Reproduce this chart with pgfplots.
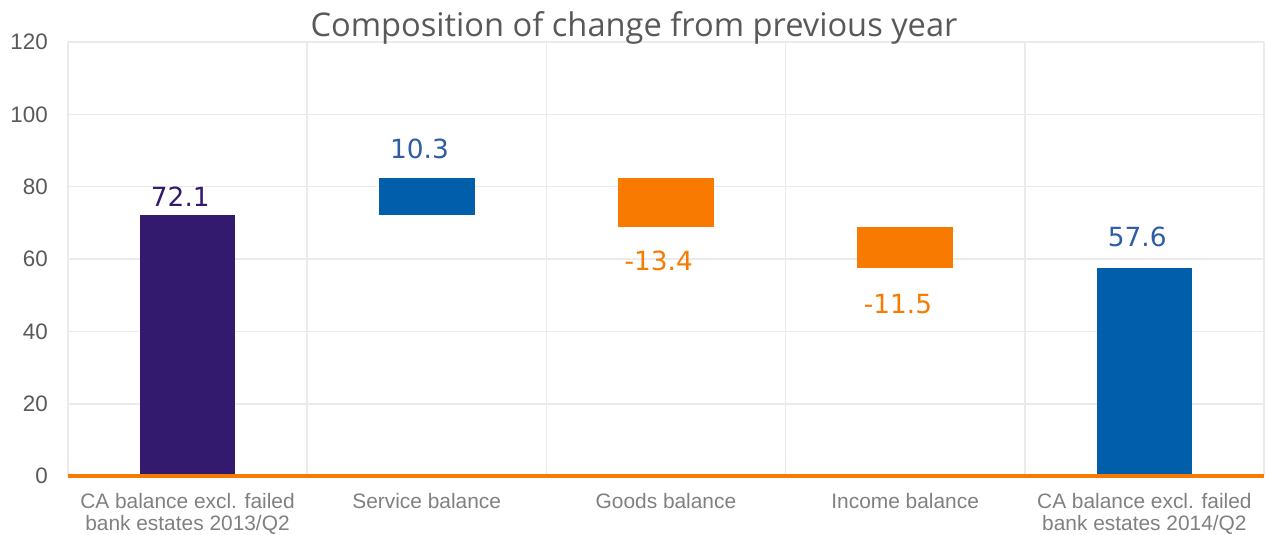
\documentclass[border=0pt]{standalone}
\usepackage{pgfplots}
\pgfplotsset{compat=1.18}
\usepackage{fontspec}
\setmainfont{Liberation Sans}
\newfontfamily\titlefont{Open Sans}
\newfontfamily\labelfont{DejaVu Sans}
\definecolor{cpurple}{HTML}{331A6E}
\definecolor{cblue}{HTML}{005EAB}
\definecolor{corange}{HTML}{F97A00}
\definecolor{lblblue}{HTML}{2E5DA5}
\definecolor{gridc}{HTML}{EBEBEB}
\definecolor{tickc}{HTML}{595959}
\definecolor{catc}{HTML}{808080}
\begin{document}
\begin{tikzpicture}
\begin{axis}[
  name=ax,
  scale only axis,
  width=1198bp, height=435bp,
  xmin=-0.5, xmax=4.5,
  ymin=0, ymax=120,
  ytick={0,20,40,60,80,100,120},
  xtick={0,1,2,3,4},
  xticklabels={{CA balance excl. failed\\bank estates 2013/Q2},{Service balance},{Goods balance},{Income balance},{CA balance excl. failed\\bank estates 2014/Q2}},
  minor xtick={-0.5,0.5,1.5,2.5,3.5,4.5},
  xminorgrids=true, ymajorgrids=true,
  minor grid style={draw=gridc, line width=1.5bp},
  major grid style={draw=gridc, line width=1.5bp},
  axis line style={draw=none},
  major tick length=0pt, minor tick length=0pt,
  xticklabel style={font=\fontsize{21}{22.5}\selectfont, text=catc, align=center, anchor=north, inner sep=0pt, yshift=-17bp},
  yticklabel style={font=\fontsize{22.5}{24}\selectfont, text=tickc, anchor=east, inner sep=0pt, xshift=-20bp},
  /pgf/number format/assume math mode=true,
  clip=false,
]
% floating bars: (x-0.2,base) (x+0.2,base) (x+0.2,top) (x-0.2,top)
\addplot[draw=none, fill=cpurple] coordinates {(-0.2,0) (0.2,0) (0.2,72.1) (-0.2,72.1)};
\addplot[draw=none, fill=cblue] coordinates {(0.8,72.1) (1.2,72.1) (1.2,82.4) (0.8,82.4)};
\addplot[draw=none, fill=corange] coordinates {(1.8,69.0) (2.2,69.0) (2.2,82.4) (1.8,82.4)};
\addplot[draw=none, fill=corange] coordinates {(2.8,57.5) (3.2,57.5) (3.2,69.0) (2.8,69.0)};
\addplot[draw=none, fill=cblue] coordinates {(3.8,0) (4.2,0) (4.2,57.6) (3.8,57.6)};
\addplot[corange, line width=4bp] coordinates {(-0.5,0) (4.5,0)};
\node[font=\labelfont\fontsize{26.5}{28}\selectfont, inner sep=0pt, text=cpurple, anchor=base] at (axis cs:-0.03,72.1) [yshift=9bp] {72.1};
\node[font=\labelfont\fontsize{26.5}{28}\selectfont, inner sep=0pt, text=lblblue, anchor=base] at (axis cs:0.97,82.4) [yshift=20bp] {10.3};
\node[font=\labelfont\fontsize{26.5}{28}\selectfont, inner sep=0pt, text=corange, anchor=north] at (axis cs:1.97,69.0) [yshift=-24bp] {-13.4};
\node[font=\labelfont\fontsize{26.5}{28}\selectfont, inner sep=0pt, text=corange, anchor=north] at (axis cs:2.97,57.5) [yshift=-26bp] {-11.5};
\node[font=\labelfont\fontsize{26.5}{28}\selectfont, inner sep=0pt, text=lblblue, anchor=base] at (axis cs:3.97,57.6) [yshift=21bp] {57.6};
\end{axis}
\node[font=\titlefont\fontsize{32.8}{36}\selectfont, text=tickc, anchor=base, inner sep=0pt] at ([xshift=567bp,yshift=5bp]ax.north west) {Composition of change from previous year};
\path ([xshift=-68bp,yshift=-58bp]ax.south west) rectangle ([yshift=42bp]ax.north east);
\end{tikzpicture}
\end{document}
